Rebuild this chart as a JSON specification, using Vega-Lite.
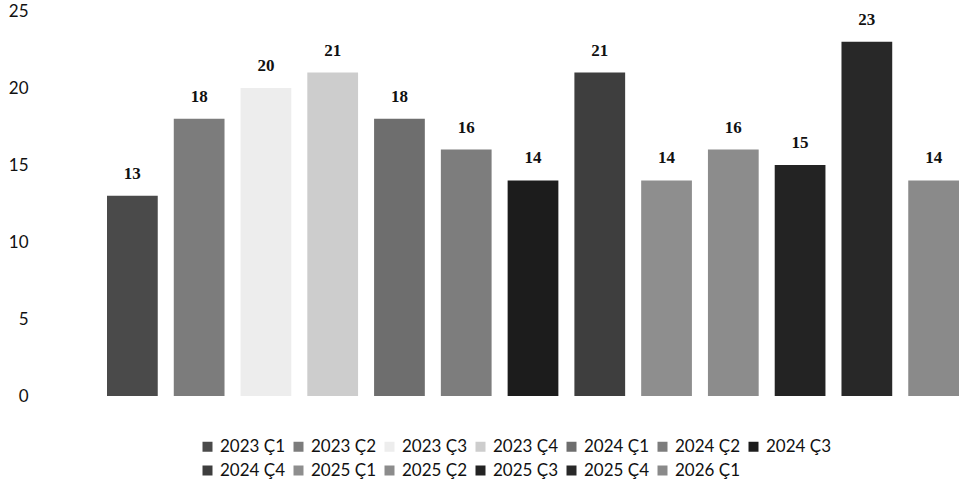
{
  "$schema": "https://vega.github.io/schema/vega-lite/v6.json",
  "width": 852,
  "height": 385,
  "autosize": {"type": "none"},
  "padding": {"left": 107, "top": 11, "right": 0, "bottom": 101},
  "background": "white",
  "config": {"view": {"stroke": null}},
  "data": {
    "values": [
      {"quarter": "2023 Ç1", "value": 13},
      {"quarter": "2023 Ç2", "value": 18},
      {"quarter": "2023 Ç3", "value": 20},
      {"quarter": "2023 Ç4", "value": 21},
      {"quarter": "2024 Ç1", "value": 18},
      {"quarter": "2024 Ç2", "value": 16},
      {"quarter": "2024 Ç3", "value": 14},
      {"quarter": "2024 Ç4", "value": 21},
      {"quarter": "2025 Ç1", "value": 14},
      {"quarter": "2025 Ç2", "value": 16},
      {"quarter": "2025 Ç3", "value": 15},
      {"quarter": "2025 Ç4", "value": 23},
      {"quarter": "2026 Ç1", "value": 14}
    ]
  },
  "encoding": {
    "x": {
      "field": "quarter",
      "type": "nominal",
      "sort": null,
      "axis": null,
      "scale": {"paddingInner": 0.24, "paddingOuter": 0}
    }
  },
  "layer": [
    {
      "mark": {"type": "bar"},
      "encoding": {
        "y": {
          "field": "value",
          "type": "quantitative",
          "scale": {"domain": [0, 25], "nice": false},
          "axis": {
            "title": null,
            "values": [0, 5, 10, 15, 20, 25],
            "domain": false,
            "ticks": false,
            "grid": false,
            "labelPadding": 79,
            "labelFont": "Lato",
            "labelFontSize": 17,
            "labelColor": "#111111"
          }
        },
        "color": {
          "field": "quarter",
          "type": "nominal",
          "sort": null,
          "scale": {
            "domain": ["2023 Ç1", "2023 Ç2", "2023 Ç3", "2023 Ç4", "2024 Ç1", "2024 Ç2", "2024 Ç3", "2024 Ç4", "2025 Ç1", "2025 Ç2", "2025 Ç3", "2025 Ç4", "2026 Ç1"],
            "range": ["#4a4a4a", "#7c7c7c", "#ededed", "#cdcdcd", "#6e6e6e", "#7d7d7d", "#1c1c1c", "#3e3e3e", "#8e8e8e", "#8c8c8c", "#232323", "#282828", "#8a8a8a"]
          },
          "legend": {
            "title": null,
            "orient": "none",
            "legendX": 92,
            "legendY": 427,
            "direction": "horizontal",
            "columns": 7,
            "symbolType": "square",
            "symbolSize": 100,
            "symbolStrokeWidth": 0,
            "labelFont": "Lato",
            "labelFontSize": 17,
            "labelColor": "#111111",
            "labelOffset": 4,
            "columnPadding": 4,
            "rowPadding": 6
          }
        }
      }
    },
    {
      "mark": {
        "type": "text",
        "font": "Liberation Serif",
        "fontSize": 17,
        "fontWeight": "bold",
        "color": "#111111",
        "baseline": "alphabetic",
        "align": "center",
        "dy": -17
      },
      "encoding": {
        "y": {"field": "value", "type": "quantitative"},
        "text": {"field": "value", "type": "quantitative"}
      }
    }
  ]
}
